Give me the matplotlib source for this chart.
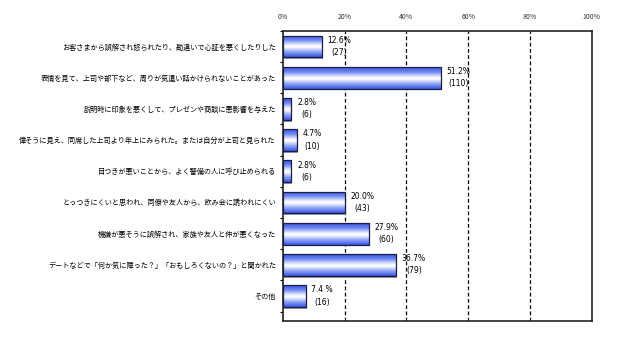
import numpy as np
import matplotlib.pyplot as plt
from matplotlib.patches import Rectangle
from matplotlib.colors import LinearSegmentedColormap

plt.rcParams['font.family'] = ['Noto Sans CJK JP', 'DejaVu Sans']

labels = [
    'お客さまから誤解され怒られたり、勘違いで心証を悪くしたりした',
    '表情を見て、上司や部下など、周りが気遣い話かけられないことがあった',
    '説明時に印象を悪くして、プレゼンや商談に悪影響を与えた',
    '偉そうに見え、同席した上司より年上にみられた。または自分が上司と見られた',
    '目つきが悪いことから、よく警備の人に呼び止められる',
    'とっつきにくいと思われ、同僚や友人から、飲み会に誘われにくい',
    '機嫌が悪そうに誤解され、家族や友人と仲が悪くなった',
    'デートなどで「何か気に障った？」「おもしろくないの？」と聞かれた',
    'その他',
]
pct = [12.6, 51.2, 2.8, 4.7, 2.8, 20.0, 27.9, 36.7, 7.4]
counts = [27, 110, 6, 10, 6, 43, 60, 79, 16]
pct_text = ['12.6%', '51.2%', '2.8%', '4.7%', '2.8%', '20.0%', '27.9%', '36.7%', '7.4 %']

fig = plt.figure(figsize=(6.37, 3.39), dpi=100)
ax = fig.add_axes([0.444, 0.053, 0.485, 0.856])

cmap = LinearSegmentedColormap.from_list('bar', [
    (0.0, '#3456e6'), (0.22, '#7088f0'), (0.45, '#eef1ff'), (0.55, '#ffffff'),
    (0.75, '#98aaf5'), (1.0, '#3456e6')])
grad = np.linspace(0, 1, 64).reshape(-1, 1)

h = 0.7
for i, v in enumerate(pct):
    # shadow
    sh = Rectangle((0.3, i - h / 2 + 0.06), v, h, facecolor='#9a9a9a',
                   edgecolor='none', zorder=2)
    ax.add_patch(sh)
    rect = Rectangle((0, i - h / 2), v, h, facecolor='none',
                     edgecolor='#1c1c44', linewidth=0.9, zorder=4)
    ax.add_patch(rect)
    im = ax.imshow(grad, cmap=cmap, aspect='auto', zorder=3,
                   extent=(0, v, i + h / 2, i - h / 2), interpolation='bilinear')
    im.set_clip_path(rect)
    ax.text(v + 1.8, i, pct_text[i] + '\n(' + str(counts[i]) + ')',
            ha='left', va='center', multialignment='center',
            fontsize=5.5, linespacing=1.45, family=['DejaVu Sans'])

ax.set_xlim(0, 100)
ax.set_ylim(8.8, -0.46)
ax.xaxis.tick_top()
ax.set_xticks([0, 20, 40, 60, 80, 100])
ax.set_xticklabels(['0%', '20%', '40%', '60%', '80%', '100%'], fontsize=5,
                   color='#333333')
ax.tick_params(axis='x', length=0, pad=7)
for x in [20, 40, 60, 80]:
    ax.axvline(x, color='black', linestyle=(0, (3, 2)), linewidth=0.9, zorder=1)

ax.set_yticks(range(len(labels)))
ax.set_yticklabels(labels, fontsize=5.15)
ax.tick_params(axis='y', length=0, pad=5)
ax.set_yticks(np.arange(-0.5, len(labels)), minor=True)
ax.tick_params(axis='y', which='minor', length=2, width=0.8)

for s in ax.spines.values():
    s.set_linewidth(1.2)
    s.set_color('#222222')

fig.savefig('out.png', dpi=100)
